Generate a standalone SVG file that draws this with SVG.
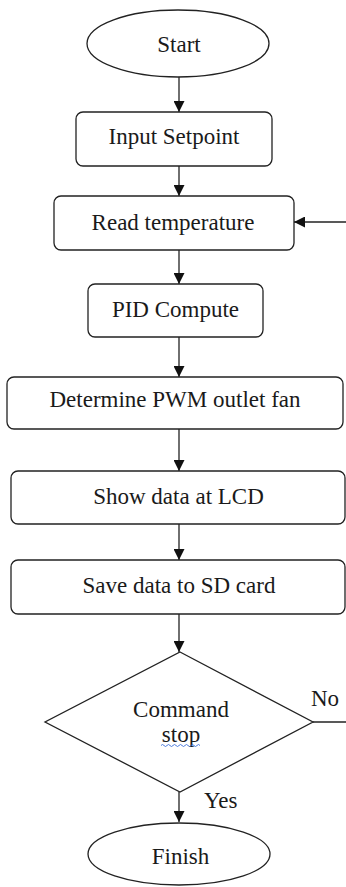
<svg xmlns="http://www.w3.org/2000/svg" id="chart" width="346" height="887" viewBox="0 0 346 887">
  <defs>
    <marker id="arrow" viewBox="0 0 10 10" refX="10" refY="5" markerWidth="11" markerHeight="11" markerUnits="userSpaceOnUse" orient="auto">
      <path d="M0,0 L10,5 L0,10 Z" fill="#111"/>
    </marker>
  </defs>
  <style>
    #chart .shape { fill: #fff; stroke: #222; stroke-width: 1.3; }
    #chart .line { fill: none; stroke: #222; stroke-width: 1.3; }
    #chart text { font-family: 'Liberation Serif', serif; font-size: 23px; fill: #1a1a1a; }
    #chart text.c { text-anchor: middle; }
  </style>
  <rect width="346" height="887" fill="#fff"/>

  <g id="connectors">
    <line class="line" x1="179" y1="77" x2="179" y2="112" marker-end="url(#arrow)"/>
    <line class="line" x1="179" y1="166" x2="179" y2="196" marker-end="url(#arrow)"/>
    <line class="line" x1="179" y1="250" x2="179" y2="284" marker-end="url(#arrow)"/>
    <line class="line" x1="179" y1="337" x2="179" y2="377" marker-end="url(#arrow)"/>
    <line class="line" x1="179" y1="429" x2="179" y2="471" marker-end="url(#arrow)"/>
    <line class="line" x1="179" y1="524" x2="179" y2="560" marker-end="url(#arrow)"/>
    <line class="line" x1="179" y1="614" x2="179" y2="652" marker-end="url(#arrow)"/>
    <line class="line" x1="179" y1="792" x2="179" y2="822" marker-end="url(#arrow)"/>
    <!-- "No" branch leaves to the right; loop back enters Read temperature from the right -->
    <line class="line" x1="313" y1="722" x2="346" y2="722"/>
    <line class="line" x1="346" y1="222" x2="294" y2="222" marker-end="url(#arrow)"/>
    <text x="311" y="706">No</text>
    <text x="204" y="808">Yes</text>
  </g>

  <g id="start">
    <ellipse class="shape" cx="178" cy="43.5" rx="91" ry="33.5"/>
    <text class="c" x="179" y="52">Start</text>
  </g>

  <g id="input-setpoint">
    <rect class="shape" x="76" y="112" width="196" height="54" rx="7"/>
    <text class="c" x="174" y="144">Input Setpoint</text>
  </g>

  <g id="read-temperature">
    <rect class="shape" x="54" y="196" width="240" height="54" rx="7"/>
    <text class="c" x="173" y="230">Read temperature</text>
  </g>

  <g id="pid-compute">
    <rect class="shape" x="88" y="284" width="175" height="53" rx="7"/>
    <text class="c" x="175.5" y="317">PID Compute</text>
  </g>

  <g id="determine-pwm">
    <rect class="shape" x="7" y="377" width="336" height="52" rx="7"/>
    <text class="c" x="175" y="407">Determine PWM outlet fan</text>
  </g>

  <g id="show-lcd">
    <rect class="shape" x="11" y="471" width="334" height="53" rx="7"/>
    <text class="c" x="178.5" y="504">Show data at LCD</text>
  </g>

  <g id="save-sd">
    <rect class="shape" x="11" y="560" width="334" height="54" rx="7"/>
    <text class="c" x="179" y="593">Save data to SD card</text>
  </g>

  <g id="command-stop">
    <polygon class="shape" points="180,652 313,722 180,792 45,722"/>
    <text class="c" x="181" y="716.5">Command</text>
    <text class="c" x="181" y="742">stop</text>
    <path d="M161,745.5 q1.5,-2 3,0 t3,0 t3,0 t3,0 t3,0 t3,0 t3,0 t3,0 t3,0 t3,0 t3,0 t3,0 t3,0" fill="none" stroke="#3b6fd8" stroke-width="0.9"/>
  </g>

  <g id="finish">
    <ellipse class="shape" cx="179" cy="854" rx="91" ry="31"/>
    <text class="c" x="180.5" y="864">Finish</text>
  </g>
</svg>
